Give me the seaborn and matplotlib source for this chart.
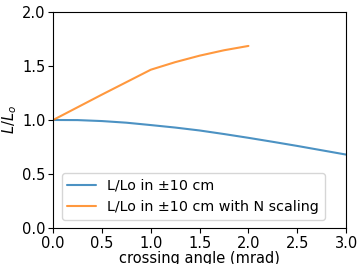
import matplotlib
matplotlib.use("Agg")
import matplotlib.pyplot as plt
import seaborn as sns
import pandas as pd

angle_blue = [0.0, 0.25, 0.5, 0.75, 1.0, 1.25, 1.5, 1.75, 2.0, 2.25, 2.5, 2.75, 3.0]
ratio_blue = [1.0, 0.999, 0.99, 0.975, 0.953, 0.93, 0.903, 0.87, 0.835, 0.798, 0.76, 0.72, 0.68]
angle_orange = [0.0, 0.5, 1.0, 1.25, 1.5, 1.75, 2.0]
ratio_orange = [1.0, 1.235, 1.465, 1.535, 1.595, 1.645, 1.685]
labels = ["L/Lo in ±10 cm", "L/Lo in ±10 cm with N scaling"]

sns.set_style("ticks")
plt.rcParams['font.family'] = ['DejaVu Sans']
plt.rcParams['font.size'] = 10
plt.rcParams.update({"text.color": "black", "axes.labelcolor": "black",
                     "xtick.color": "black", "ytick.color": "black"})

df = pd.concat([
    pd.DataFrame({"angle": angle_blue, "ratio": ratio_blue, "series": labels[0]}),
    pd.DataFrame({"angle": angle_orange, "ratio": ratio_orange, "series": labels[1]}),
])

fig = plt.figure(figsize=(3.59, 2.64), dpi=100)
ax = fig.add_axes([0.148, 0.136, 0.816, 0.819])
sns.lineplot(data=df, x="angle", y="ratio", hue="series",
             palette=["#1f77b4", "#ff7f0e"], ax=ax, linewidth=1.5, alpha=0.8)
ax.set_xlim(0, 3.0)
ax.set_ylim(0, 2.0)
ax.set_xticks([0, 0.5, 1.0, 1.5, 2.0, 2.5, 3.0])
ax.set_yticks([0, 0.5, 1.0, 1.5, 2.0])
ax.tick_params(bottom=True, left=True, labelsize=10.5, length=3.5, width=0.8,
               color="black", labelcolor="black", direction="out", pad=2)
ax.set_xlabel("crossing angle (mrad)", fontsize=10.5, labelpad=0)
ax.set_ylabel("$L/L_o$", fontsize=10.5, labelpad=2)
ax.legend(title=None, loc="lower left", fontsize=10.3, borderaxespad=0.6)
for s in ax.spines.values():
    s.set_color("black")
    s.set_linewidth(0.8)
fig.savefig("out.png", dpi=100)
